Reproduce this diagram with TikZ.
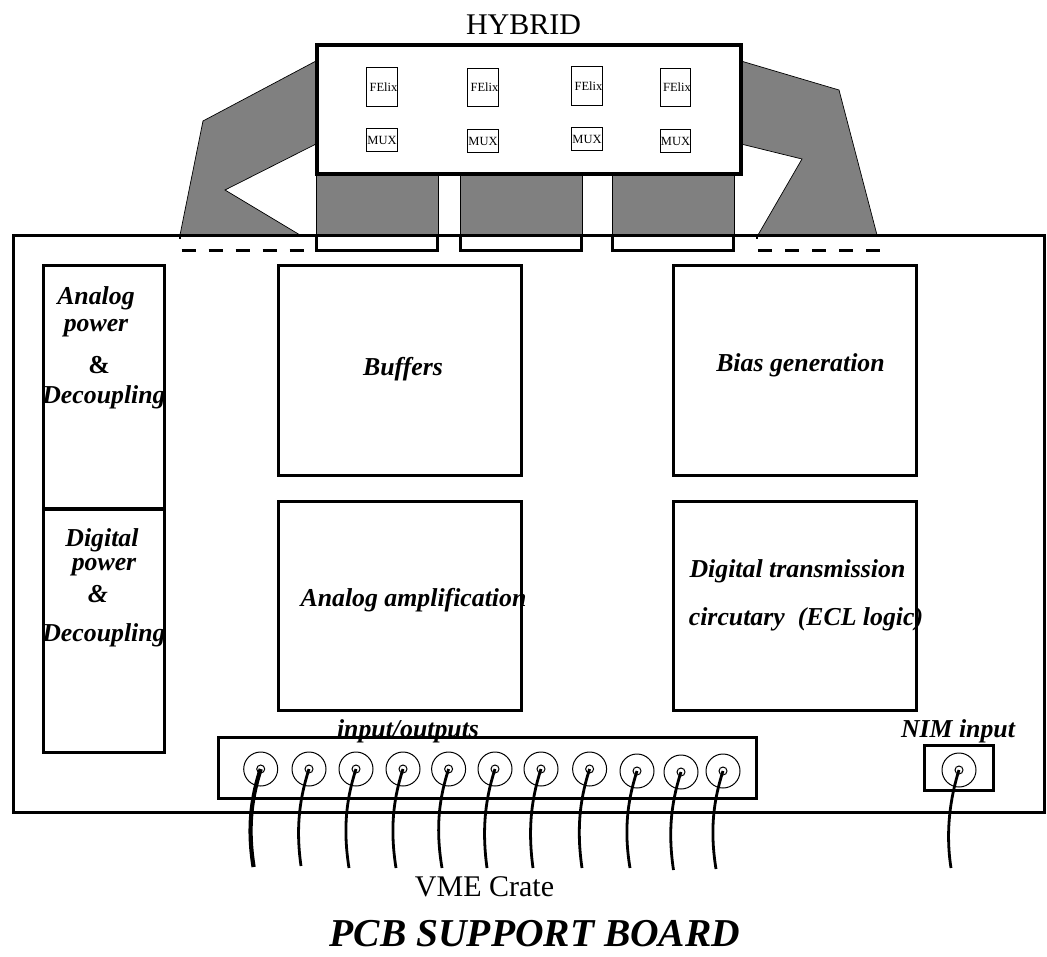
\documentclass[tikz,border=0pt]{standalone}
\usepackage{fontspec}
\setmainfont{Liberation Serif}
\newcommand{\fsz}[1]{\fontsize{#1}{#1}\selectfont}
\definecolor{gray50}{gray}{0.5}
\tikzset{
  x=1pt,y=-1pt,
  box/.style={draw=black,line width=3pt,fill=white,inner sep=0pt,rectangle},
  chip/.style={draw=black,line width=1pt,fill=white,inner sep=0pt,rectangle,minimum width=30.5pt},
  felixbox/.style={chip,minimum height=38.5pt},
  muxbox/.style={chip,minimum height=23.5pt},
  chiplabel/.style={font=\fsz{12.5},inner sep=0pt},
  biglabel/.style={font=\fsz{25.8}\bfseries\itshape,inner sep=0pt,anchor=base},
  plainlabel/.style={font=\fsz{30},inner sep=0pt,anchor=base},
  flex/.style={fill=gray50,draw=black,line width=0.7pt},
  cable/.style={draw=black,line width=2.8pt},
  outerring/.style={circle,draw=black,line width=1pt,minimum size=34pt,inner sep=0pt},
  innerring/.style={circle,draw=black,line width=1pt,fill=white,minimum size=8pt,inner sep=0pt},
  edgeline/.style={draw=black,line width=3pt},
  dashline/.style={edgeline,dash pattern=on 14pt off 13pt},
}
\begin{document}
\begin{tikzpicture}
\useasboundingbox (0,0) rectangle (1047,956);
% flex circuits
\draw[flex] (316,61) -- (203,121) -- (180,235) -- (300,235) -- (225,190) -- (316,144) -- cycle;
\draw[flex] (741,61) -- (839,90) -- (877,235) -- (758,235) -- (802,159) -- (741,144) -- cycle;
\draw[flex] (316,174) rectangle (438,235);
\draw[flex] (460,174) rectangle (582,235);
\draw[flex] (612,174) rectangle (734,235);
% board
\node[box,fill=none,minimum width=1031pt,minimum height=577.5pt] (board) at (528.5,523.8) {};
\draw[edgeline] (316,235) |- (437.5,250) -- (437.5,235);
\draw[edgeline] (460,235) |- (581.5,250) -- (581.5,235);
\draw[edgeline] (612,235) |- (733.5,250) -- (733.5,235);
\draw[dashline] (181.5,250) -- (303.5,250);
\draw[dashline] (758,250) -- (880,250);
\draw[line width=1.6pt] (180,235) -- (180,239);
\draw[line width=1.6pt] (757,235) -- (757,239);
% hybrid
\node[box,line width=3.4pt,minimum width=424pt,minimum height=129pt] (hybrid) at (529,109.5) {};
\node[plainlabel] (hybridlabel) at (523.5,34.5) {HYBRID};
\foreach \n/\x/\yf/\ym in {1/382/87/140,2/483/87.5/141,3/587/86/139,4/675.5/87.5/141}{
  \node[felixbox] (felix\n) at (\x,\yf) {};
  \node[chiplabel] (felixt\n) at (\x+1.5,\yf) {FElix};
  \node[muxbox] (mux\n) at (\x,\ym) {};
  \node[chiplabel] (muxt\n) at (\x,\ym) {MUX};
}
% functional blocks
\node[box,minimum width=121pt,minimum height=243.5pt] (analogpower) at (103.5,387) {};
\node[box,minimum width=121pt,minimum height=243pt] (digitalpower) at (103.5,630.5) {};
\node[box,minimum width=243pt,minimum height=210.5pt] (buffers) at (399.5,370.5) {};
\node[box,minimum width=243pt,minimum height=210.5pt] (bias) at (794.5,370.5) {};
\node[box,minimum width=243pt,minimum height=209.5pt] (amp) at (399.5,606) {};
\node[box,minimum width=243pt,minimum height=209.5pt] (digital) at (794.5,606) {};
\node[biglabel] (l1) at (96,304.5) {Analog};
\node[biglabel] (l2) at (96,331.5) {power};
\node[biglabel,font=\fsz{25.8}\bfseries] (l3) at (99,373.5) {\&};
\node[biglabel] (l4) at (104,403.5) {Decoupling};
\node[biglabel] (l5) at (102,546.5) {Digital};
\node[biglabel] (l6) at (104,570.5) {power};
\node[biglabel] (l7) at (98,602.5) {\&};
\node[biglabel] (l8) at (104,641.5) {Decoupling};
\node[biglabel] (l9) at (403,375.5) {Buffers};
\node[biglabel] (l10) at (800.5,371.5) {Bias generation};
\node[biglabel] (l11) at (413.5,606.5) {Analog amplification};
\node[biglabel] (l12) at (797.5,577.5) {Digital transmission};
\node[biglabel] (l13) at (806,625.5) {circutary\ \ (ECL logic)};
% connectors
\node[box,minimum width=538pt,minimum height=60.5pt] (bar) at (487,768) {};
\node[biglabel] (l14) at (408,737.5) {input/outputs};
\foreach \n/\x/\y/\ex/\ey/\w in {1/260.7/769/253.6/867/4.2,2/309/769/301/866/2.8,3/356/769/349/868/2.8,4/403/769/396/868/2.8,5/448.6/769/442/868/2.8,6/495/769/487/868/2.8,7/541/769/533/868/2.8,8/589.6/769/582/868/2.8,9/637/771/630/868/2.8,10/681/772/673.5/870/2.8,11/723/771/716/869/2.8}{
  \node[outerring] (ring\n) at (\x,\y) {};
  \node[innerring] (pin\n) at (\x,\y) {};
  \coordinate (end\n) at (\ex,\ey);
  \draw[cable,line width=\w pt] (pin\n.center) .. controls (\x-8,\y+25) and (\x-14,\y+55) .. (end\n);
}
\node[box,minimum width=69pt,minimum height=45.5pt] (nim) at (958.5,768) {};
\node[outerring] (nimring) at (959,770) {};
\node[innerring] (nimpin) at (959,770) {};
\coordinate (nimend) at (951,868);
\draw[cable] (nimpin.center) .. controls (951,795) and (945,830) .. (nimend);
\node[biglabel] (l15) at (958,737.5) {NIM input};
\node[plainlabel] (vme) at (484.5,896.5) {VME Crate};
\node[biglabel,font=\fsz{39.5}\bfseries\itshape] (title) at (535,946) {PCB SUPPORT BOARD};
\end{tikzpicture}
\end{document}
